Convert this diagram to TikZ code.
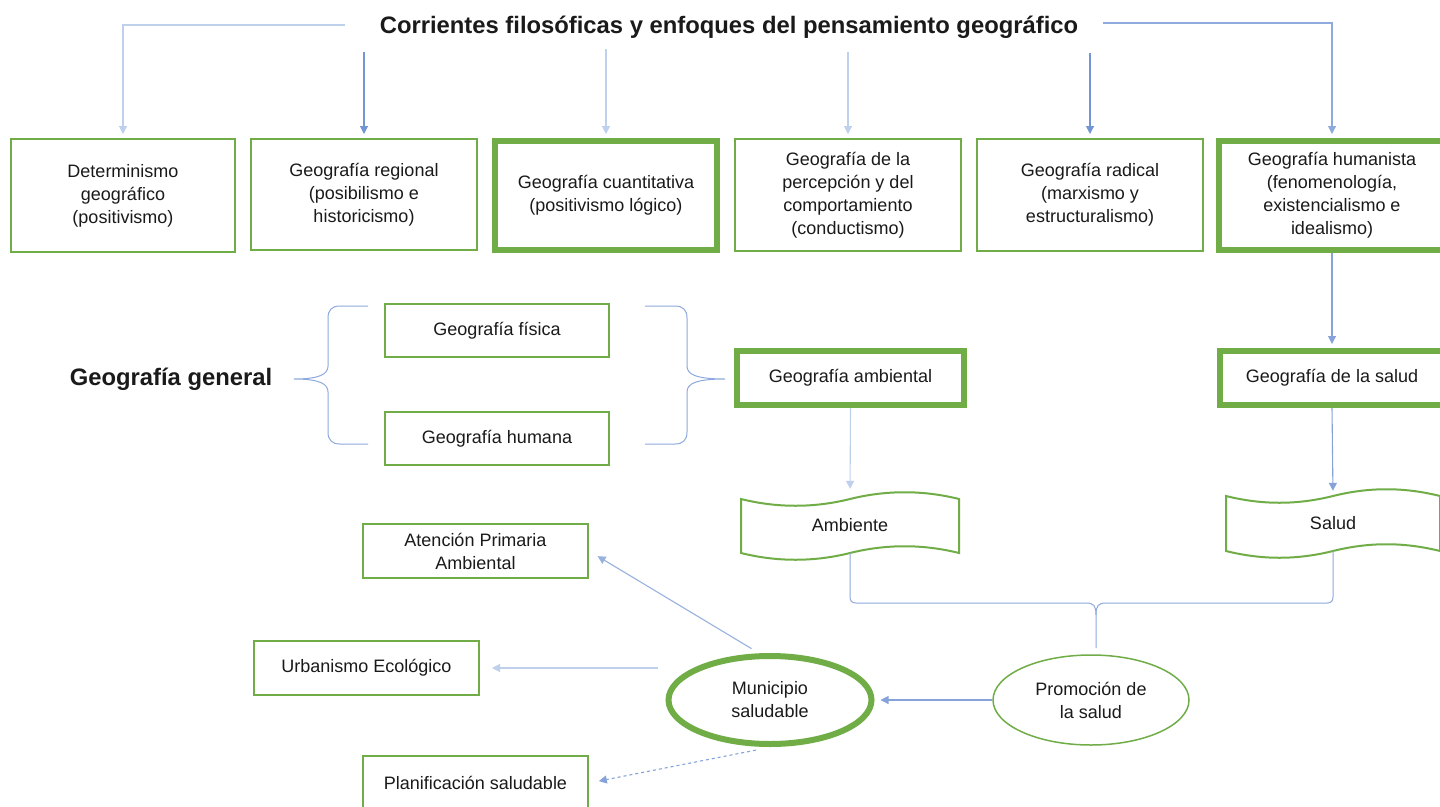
\documentclass[tikz,border=0pt]{standalone}
\usepackage{fontspec}
\setmainfont{Liberation Sans}
\usetikzlibrary{arrows.meta,shapes.geometric}
\definecolor{gr}{HTML}{70AD47}
\definecolor{ln}{HTML}{4472C4}
\definecolor{lnl}{HTML}{8EA9DB}
\definecolor{lnf}{HTML}{BFD0EC}
\definecolor{tx}{HTML}{1A1A1A}
\begin{document}
\begin{tikzpicture}[x=1pt,y=-1pt,
  box/.style={draw=gr, line width=2pt, align=center, inner sep=0pt, text=tx,
    font=\fontsize{18}{23}\selectfont},
  thickbox/.style={box, line width=6pt},
  tip/.style={-{Triangle[length=8pt,width=8pt]}},
  arr/.style={tip, draw=ln!75, line width=1.1pt, shorten >=4pt},
  arrf/.style={tip, draw=lnf, line width=1.1pt, shorten >=4pt},
  bracel/.style={draw=lnl, line width=1pt},
  tapeline/.style={draw=gr, line width=2pt},
  lbl/.style={inner sep=0pt, text=tx, align=center, font=\fontsize{18}{23}\selectfont}]
\useasboundingbox (0,0) rectangle (1440,806);
\clip (0,0) rectangle (1440,806);
\fill[white] (0,0) rectangle (1440,806);

% title
\node[inner sep=0pt, text=tx, font=\bfseries\fontsize{23.8}{28}\selectfont] (title) at (729,27)
  {Corrientes filosóficas y enfoques del pensamiento geográfico};

% top row
\node[box, minimum width=224pt, minimum height=113pt] (b1) at (123,195.5)
  {Determinismo\\geográfico\\(positivismo)};
\node[box, minimum width=226pt, minimum height=111pt] (b2) at (364,194.5)
  {Geografía regional\\(posibilismo e\\historicismo)};
\node[thickbox, minimum width=222pt, minimum height=109pt] (b3) at (606,195.5)
  {Geografía cuantitativa\\(positivismo lógico)};
\node[box, minimum width=226pt, minimum height=112pt] (b4) at (848,195)
  {Geografía de la\\percepción y del\\comportamiento\\(conductismo)};
\node[box, minimum width=226pt, minimum height=112pt] (b5) at (1090,195)
  {Geografía radical\\(marxismo y\\estructuralismo)};
\node[thickbox, minimum width=226pt, minimum height=109pt] (b6) at (1332,195.5)
  {Geografía humanista\\(fenomenología,\\existencialismo e\\idealismo)};

% title connectors
\coordinate (tl) at (345,25);
\coordinate (tr) at (1103,23);
\draw[arrf] (tl) -| (b1.north);
\draw[arr] (b2.north |- 0,52) -- (b2.north);
\draw[arrf] (b3.north |- 0,49) -- (b3.north);
\draw[arrf] (b4.north |- 0,52) -- (b4.north);
\draw[arr] (b5.north |- 0,53) -- (b5.north);
\draw[arr, draw=ln!60] (tr) -| (b6.north);

% middle
\node[inner sep=0pt, text=tx, font=\bfseries\fontsize{23.8}{28}\selectfont] (gg) at (171,379)
  {Geografía general};
\node[box, minimum width=224pt, minimum height=53pt] (gf) at (497,330.5) {Geografía física};
\node[box, minimum width=224pt, minimum height=53pt] (gh) at (497,438.5) {Geografía humana};
\node[thickbox, minimum width=227pt, minimum height=54pt] (ga) at (850.5,378) {Geografía ambiental};
\node[thickbox, minimum width=224pt, minimum height=54pt] (gs) at (1332,378) {Geografía de la salud};

% braces
\draw[bracel] (368,306) -- (340,306) .. controls (332,306) and (328,310) .. (328,318)
  -- (328,366) .. controls (328,374) and (320,379) .. (294,379)
  .. controls (320,379) and (328,384) .. (328,392)
  -- (328,432) .. controls (328,440) and (332,444) .. (340,444) -- (368,444);
\draw[bracel] (645,306) -- (675,306) .. controls (683,306) and (687,310) .. (687,318)
  -- (687,366) .. controls (687,374) and (695,379) .. (725,379)
  .. controls (695,379) and (687,384) .. (687,392)
  -- (687,432) .. controls (687,440) and (683,444) .. (675,444) -- (645,444);

% tapes
\node[lbl, minimum width=218pt, minimum height=55pt] (amb) at (850,525.5) {Ambiente};
\node[lbl, minimum width=214pt, minimum height=55pt] (sal) at (1333,523.5) {Salud};
\draw[tapeline] (741,499) .. controls (777,508) and (814,508) .. (850,499)
  .. controls (886,490) and (923,490) .. (959,499) -- (959,553)
  .. controls (923,544) and (886,544) .. (850,553)
  .. controls (814,562) and (777,562) .. (741,553) -- cycle;
\draw[tapeline] (1226,496) .. controls (1262,505) and (1297,505) .. (1333,496)
  .. controls (1369,487) and (1404,487) .. (1440,496) -- (1440,551)
  .. controls (1404,542) and (1369,542) .. (1333,551)
  .. controls (1297,560) and (1262,560) .. (1226,551) -- cycle;

\draw[arr, draw=ln!65] (b6.south) -- (gs.north);
\draw[arrf, shorten >=9pt] (ga.south) -- (amb.north);
\draw[arr, draw=ln!65, shorten >=5pt] (gs.south) -- (sal.north);

% bottom brace
\node[draw=gr, line width=1.5pt, ellipse, minimum width=196pt, minimum height=90pt,
  inner sep=0pt, text=tx, align=center, font=\fontsize{18}{23}\selectfont] (prom) at (1091,700)
  {Promoción de\\la salud};
\draw[bracel] (amb.south) -- (850,597) .. controls (850,601) and (852,603) .. (856,603)
  -- (1086,603) .. controls (1094,603) and (1096,606) .. (1096,615) -- (1096,648);
\draw[bracel] (sal.south) -- (1333,597) .. controls (1333,601) and (1331,603) .. (1327,603)
  -- (1106,603) .. controls (1098,603) and (1096,606) .. (1096,615);

% bottom left
\node[draw=gr, line width=6pt, ellipse, minimum width=203pt, minimum height=88pt,
  inner sep=0pt, text=tx, align=center, font=\fontsize{18}{23}\selectfont] (mun) at (770,700)
  {Municipio\\saludable};
\node[box, minimum width=225pt, minimum height=54pt] (apa) at (475.5,551)
  {Atención Primaria\\Ambiental};
\node[box, minimum width=225pt, minimum height=54pt] (urb) at (366.5,668) {Urbanismo Ecológico};
\node[box, minimum width=225pt, minimum height=54pt] (plan) at (475.5,783) {Planificación saludable};

\draw[arr, draw=ln!65, shorten >=6pt] (prom.west) -- (mun.east);
\draw[arr, draw=ln!55, shorten <=9pt, shorten >=10pt] (mun.103) -- (apa.east);
\draw[arrf, shorten <=8pt, shorten >=12pt] (mun.west |- urb.east) -- (urb.east);
\draw[arr, draw=ln!65, dashed, shorten <=16pt, shorten >=10pt] (mun.272) -- (plan.east);
\end{tikzpicture}
\end{document}
